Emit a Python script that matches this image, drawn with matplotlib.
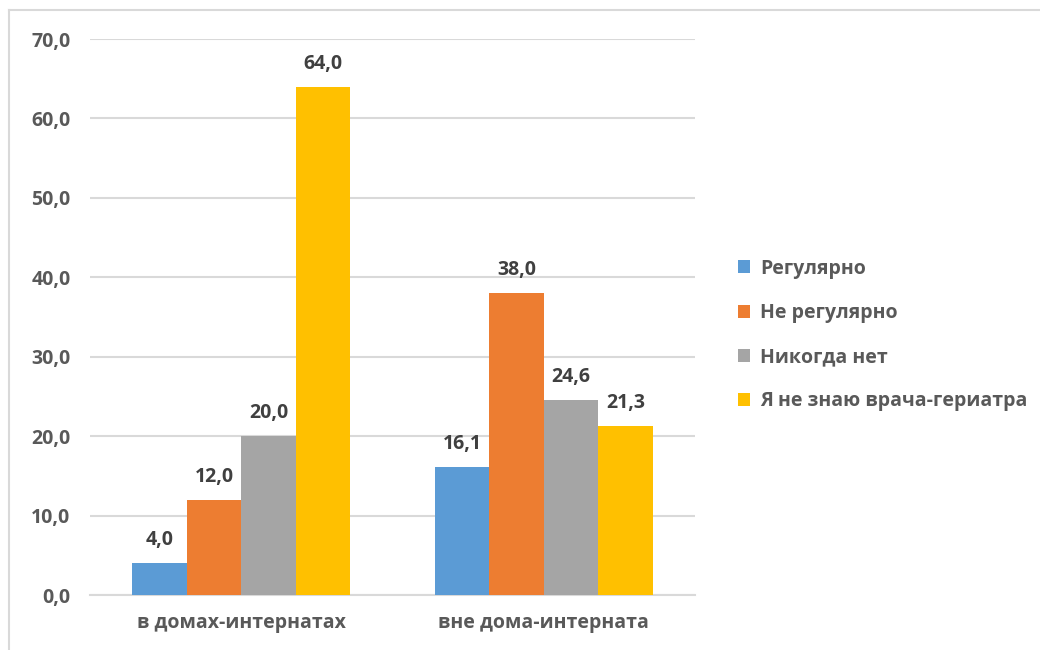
import matplotlib
matplotlib.use("Agg")
import numpy as np
import matplotlib.pyplot as plt
from matplotlib.lines import Line2D

# --- Data ---
categories = ["в домах-интернатах", "вне дома-интерната"]
series_names = ["Регулярно", "Не регулярно", "Никогда нет", "Я не знаю врача-гериатра"]
regularly = [4.0, 16.1]
not_regularly = [12.0, 38.0]
never = [20.0, 24.6]
dont_know = [64.0, 21.3]
yticks = [0, 10, 20, 30, 40, 50, 60, 70]

colors = ["#5B9BD5", "#ED7D31", "#A5A5A5", "#FFC000"]
tick_color = "#595959"
label_color = "#404040"
grid_color = "#D9D9D9"

plt.rcParams['font.family'] = ['Open Sans', 'DejaVu Sans']
plt.rcParams['font.weight'] = 'bold'
fs = 14

fig = plt.figure(figsize=(10.4, 6.5), dpi=100)
ax = fig.add_axes([90 / 1040, 1 - 595 / 650, 605 / 1040, 556 / 650])

x = np.arange(len(categories))
width = 0.18
all_series = [regularly, not_regularly, never, dont_know]
for i, (vals, name, col) in enumerate(zip(all_series, series_names, colors)):
    offs = (i - 1.5) * width
    bars = ax.bar(x + offs, vals, width, color=col, label=name, zorder=3)
    for b, v in zip(bars, vals):
        ax.annotate(f"{v:.1f}".replace(".", ","),
                    (b.get_x() + b.get_width() / 2, b.get_height()),
                    xytext=(0, 13), textcoords="offset points",
                    ha="center", va="baseline", fontsize=fs,
                    fontweight="bold", color=label_color)

ax.set_xlim(-0.5, 1.5)
ax.set_ylim(0, 70)
ax.set_yticks(yticks)
ax.set_yticklabels([f"{t:.1f}".replace(".", ",") for t in yticks])
ax.set_xticks(x)
ax.set_xticklabels(categories)
ax.tick_params(axis="both", length=0, colors=tick_color, labelsize=fs)
ax.tick_params(axis="y", pad=14)
ax.tick_params(axis="x", pad=13)
for lbl in ax.get_xticklabels() + ax.get_yticklabels():
    lbl.set_fontweight("bold")

ax.grid(axis="y", color=grid_color, linewidth=1.5, zorder=0)
for s in ["top", "right", "left"]:
    ax.spines[s].set_visible(False)
ax.spines["bottom"].set_color(grid_color)
ax.spines["bottom"].set_linewidth(1.5)

# chart border (left and top visible)
fig.add_artist(Line2D([9 / 1040, 9 / 1040], [0, 1 - 10 / 650],
                      transform=fig.transFigure, color=grid_color, lw=1.5))
fig.add_artist(Line2D([9 / 1040, 1], [1 - 10 / 650, 1 - 10 / 650],
                      transform=fig.transFigure, color=grid_color, lw=1.5))

leg = fig.legend(loc="center left", bbox_to_anchor=(720 / 1040, 1 - 335 / 650),
                 frameon=False, fontsize=fs, handlelength=0.65, handleheight=0.65,
                 handletextpad=0.5, labelspacing=1.25)
for t in leg.get_texts():
    t.set_color(tick_color)
    t.set_fontweight("bold")

fig.savefig("out.png", dpi=100)
